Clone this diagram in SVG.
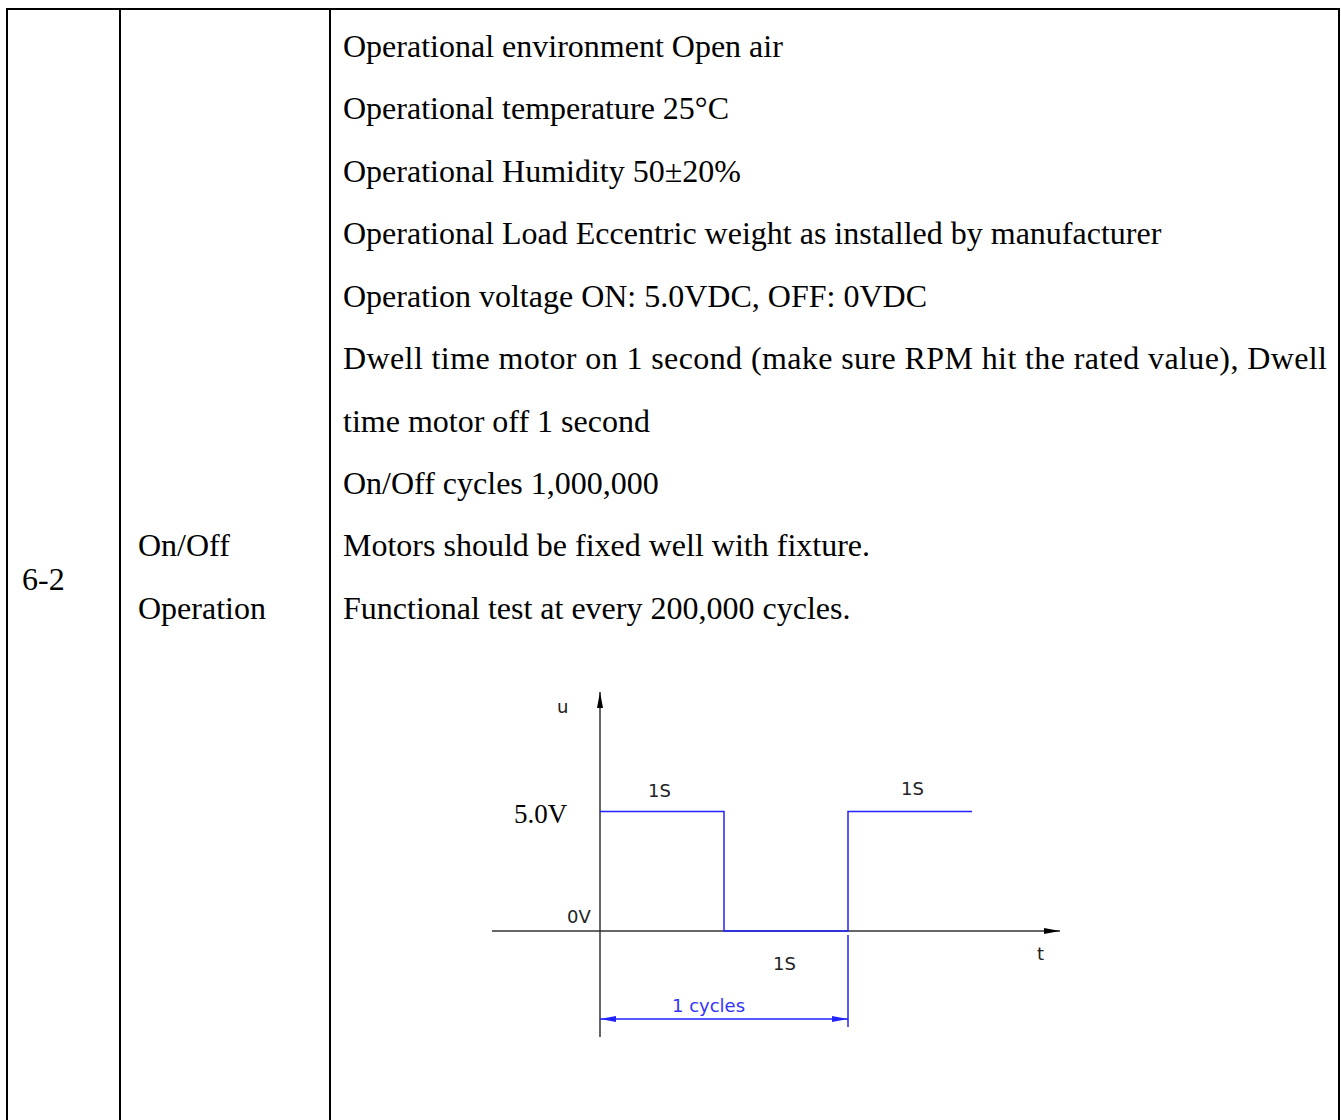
<svg xmlns="http://www.w3.org/2000/svg" width="1341" height="1120" viewBox="0 0 1341 1120">
<style>
.grid{stroke:#000;stroke-width:2;fill:none}
.t{font-family:"Liberation Serif","Times New Roman",serif;font-size:32px;fill:#000}
.cad{font-family:"DejaVu Sans","Liberation Sans",sans-serif;font-size:18px;fill:#222}
.cadb{font-family:"DejaVu Sans","Liberation Sans",sans-serif;font-size:18px;fill:#3333ff}
.axis{stroke:#333;stroke-width:1.5;fill:none}
.sig{stroke:#2222ff;stroke-width:1.5;fill:none}
</style>
<defs>
<marker id="ah" markerWidth="16" markerHeight="8" refX="16" refY="4" orient="auto" markerUnits="userSpaceOnUse">
<path d="M0,1 L16,4 L0,7 Z" fill="#000"/>
</marker>
<marker id="bh" markerWidth="16" markerHeight="8" refX="16" refY="4" orient="auto-start-reverse" markerUnits="userSpaceOnUse">
<path d="M0,1 L16,4 L0,7 Z" fill="#2222ff"/>
</marker>
</defs>
<rect width="1341" height="1120" fill="#fff"/>
<g id="table">
<path class="grid" d="M7,1120 V9 H1339 V1120 M120,9 V1120 M330,9 V1120"/>
</g>
<g id="col1">
<text class="t" x="22" y="590">6-2</text>
</g>
<g id="col2">
<text class="t" x="138" y="556">On/Off</text>
<text class="t" x="138" y="619">Operation</text>
</g>
<g id="col3">
<text class="t" x="343" y="57">Operational environment Open air</text>
<text class="t" x="343" y="119">Operational temperature 25°C</text>
<text class="t" x="343" y="182">Operational Humidity 50±20%</text>
<text class="t" x="343" y="244">Operational Load Eccentric weight as installed by manufacturer</text>
<text class="t" x="343" y="307">Operation voltage ON: 5.0VDC, OFF: 0VDC</text>
<text class="t" x="343" y="369" textLength="984" lengthAdjust="spacing">Dwell time motor on 1 second (make sure RPM hit the rated value), Dwell</text>
<text class="t" x="343" y="432">time motor off 1 second</text>
<text class="t" x="343" y="494">On/Off cycles 1,000,000</text>
<text class="t" x="343" y="556">Motors should be fixed well with fixture.</text>
<text class="t" x="343" y="619">Functional test at every 200,000 cycles.</text>
</g>
<g id="connectors">
<line class="axis" x1="600" y1="1037" x2="600" y2="692" marker-end="url(#ah)"/>
<line class="axis" x1="492" y1="931" x2="1060" y2="931" marker-end="url(#ah)"/>
<path class="sig" d="M600,811.5 H724 V931 H848 V811.5 H972"/>
<line class="sig" x1="848" y1="935" x2="848" y2="1027"/>
<line class="sig" x1="600" y1="1019" x2="848" y2="1019" marker-start="url(#bh)" marker-end="url(#bh)"/>
</g>
<g id="labels">
<text class="cad" x="557" y="713">u</text>
<text class="cad" x="648" y="797">1S</text>
<text class="t" x="514" y="823" style="font-size:27px">5.0V</text>
<text class="cad" x="567" y="923">0V</text>
<text class="cad" x="773" y="970">1S</text>
<text class="cad" x="901" y="795">1S</text>
<text class="cad" x="1037" y="960">t</text>
<text class="cadb" x="672" y="1012">1 cycles</text>
</g>
</svg>
